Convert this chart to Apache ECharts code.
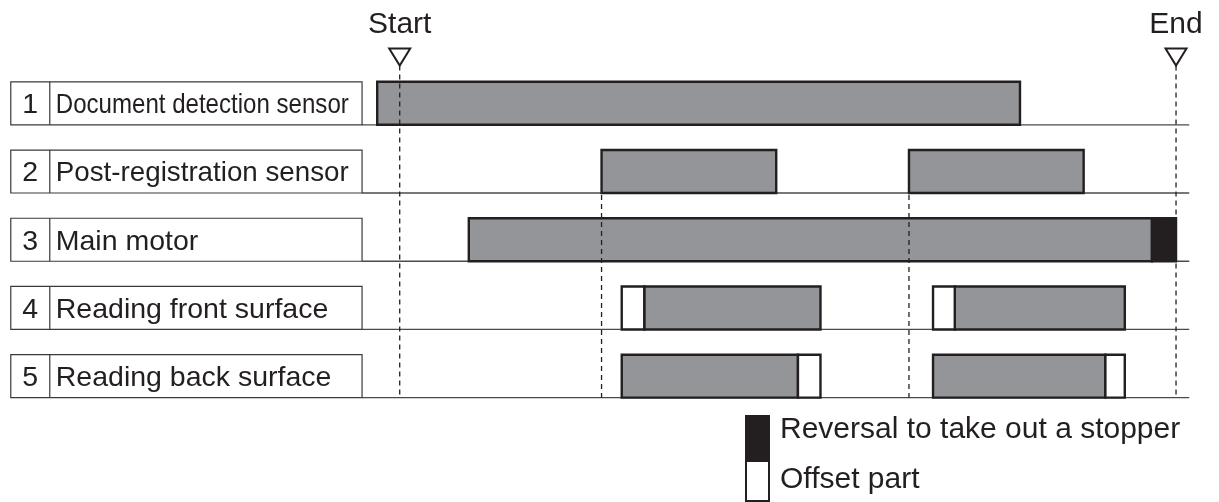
<!DOCTYPE html>
<html>
<head>
<meta charset="utf-8">
<script src="https://cdn.jsdelivr.net/npm/echarts@6/dist/echarts.min.js"></script>
<style>
html,body{margin:0;padding:0;background:#fff;}
#chart{width:1219px;height:502px;}
</style>
</head>
<body>
<div id="chart"></div>
<script>
// ---------- data (time units: Start = 0, End = 100) ----------
const rowNumbers = ['1', '2', '3', '4', '5'];
const rowNames = ['Document detection sensor', 'Post-registration sensor', 'Main motor', 'Reading front surface', 'Reading back surface'];
// [row, start, end]
const activeSpans = [
  [1, -2.9, 79.9],
  [2, 26.0, 48.5], [2, 65.6, 88.1],
  [3, 8.9, 96.9],
  [4, 31.5, 54.2], [4, 71.5, 93.4],
  [5, 28.6, 51.3], [5, 68.7, 90.9]
];
const reversalSpans = [[3, 96.9, 100]];
const offsetSpans = [[4, 28.6, 31.5], [4, 68.7, 71.5], [5, 51.3, 54.2], [5, 90.9, 93.4]];
const markerNames = ['Start', 'End'];
const markerTimes = [0, 100];
const syncTimes = [26.0, 65.6];
const legendNames = ['Reversal to take out a stopper', 'Offset part'];

// ---------- layout / style constants ----------
const INK = '#231f20';
const GRAY = '#939598';
const FONT = "'Liberation Sans', Arial, Helvetica, sans-serif";
const BAR_H = 0.63;            // bar height in row units
const BOX_LEFT = -50.1, BOX_RIGHT = -4.85;
const LINE_END = 101.7;
const LABEL_FS = 28.5;
const MAX_NAME_W = 293;

const measureCtx = document.createElement('canvas').getContext('2d');
function textWidth(t, fs) { measureCtx.font = fs + 'px ' + FONT; return measureCtx.measureText(t).width; }

const chart = echarts.init(document.getElementById('chart'), null, { renderer: 'canvas' });

function spanSeries(name, data, fill, z) {
  return {
    type: 'custom', name: name, z: z, silent: true,
    data: data,
    renderItem: function (params, api) {
      const row = api.value(0);
      const p0 = api.coord([api.value(1), row - BAR_H]);
      const p1 = api.coord([api.value(2), row]);
      return {
        type: 'rect',
        shape: { x: p0[0], y: p0[1], width: p1[0] - p0[0], height: p1[1] - p0[1] },
        style: { fill: fill, stroke: INK, lineWidth: 2.4 }
      };
    }
  };
}

const labelData = rowNames.map((n, i) => [i + 1, rowNumbers[i], n]);

const option = {
  animation: false,
  grid: { left: 10, right: 29, top: 2, bottom: 2 },
  xAxis: { type: 'value', min: -50.2, max: 101.8, show: false },
  yAxis: { type: 'value', min: -0.8, max: 6.5, inverse: true, show: false },
  series: [
    // label boxes
    {
      type: 'custom', name: 'labels', z: 2, silent: true,
      data: labelData,
      renderItem: function (params, api) {
        const row = api.value(0);
        const d = labelData[params.dataIndex];
        const tl = api.coord([BOX_LEFT, row - BAR_H]);
        const br = api.coord([BOX_RIGHT, row]);
        const midY = (tl[1] + br[1]) / 2 + 2;
        const divX = tl[0] + 39;
        const nameX = divX + 6;
        const nat = textWidth(d[2], LABEL_FS);
        const sx = Math.min(1, MAX_NAME_W / nat);
        return {
          type: 'group',
          children: [
            { type: 'rect', shape: { x: tl[0], y: tl[1], width: br[0] - tl[0], height: br[1] - tl[1] },
              style: { fill: '#fff', stroke: '#3a3a3a', lineWidth: 1.2 } },
            { type: 'line', shape: { x1: divX, y1: tl[1], x2: divX, y2: br[1] },
              style: { stroke: '#3a3a3a', lineWidth: 1.2 } },
            { type: 'text', x: tl[0] + 19.5, y: midY,
              style: { text: d[1], fill: INK, font: LABEL_FS + 'px ' + FONT, align: 'center', verticalAlign: 'middle' } },
            { type: 'text', x: nameX, y: midY, scaleX: sx,
              style: { text: d[2], fill: INK, font: LABEL_FS + 'px ' + FONT, align: 'left', verticalAlign: 'middle' } }
          ]
        };
      }
    },
    // baselines
    {
      type: 'custom', name: 'baselines', z: 1, silent: true,
      data: rowNames.map((n, i) => [i + 1]),
      renderItem: function (params, api) {
        const a = api.coord([BOX_RIGHT, api.value(0)]);
        const b = api.coord([LINE_END, api.value(0)]);
        return { type: 'line', shape: { x1: a[0], y1: a[1], x2: b[0], y2: b[1] },
          style: { stroke: '#4a4a4a', lineWidth: 1.3 } };
      }
    },
    spanSeries('active', activeSpans, GRAY, 3),
    spanSeries('reversal', reversalSpans, INK, 4),
    spanSeries('offset', offsetSpans, '#ffffff', 4),
    // sync dashed lines
    {
      type: 'custom', name: 'sync', z: 6, silent: true,
      data: syncTimes.map(t => [t]),
      renderItem: function (params, api) {
        const a = api.coord([api.value(0), 2]);
        const b = api.coord([api.value(0), 5]);
        return { type: 'line', shape: { x1: a[0], y1: a[1] + 2, x2: b[0], y2: b[1] },
          style: { stroke: INK, lineWidth: 1.3, lineDash: [5, 4] } };
      }
    },
    // Start / End markers
    {
      type: 'custom', name: 'markers', z: 6, silent: true,
      data: markerTimes.map((t, i) => [t, markerNames[i]]),
      renderItem: function (params, api) {
        const t = api.value(0);
        const c = api.coord([t, 0]);
        const lineEnd = api.coord([t, 5]);
        const txt = api.coord([t, -0.5]);
        return {
          type: 'group',
          children: [
            { type: 'line', shape: { x1: c[0], y1: c[1] + 9, x2: lineEnd[0], y2: lineEnd[1] },
              style: { stroke: INK, lineWidth: 1.3, lineDash: [5, 4] } },
            { type: 'polygon', shape: { points: [[c[0] - 10.5, c[1] - 8], [c[0] + 10.5, c[1] - 8], [c[0], c[1] + 9]] },
              style: { fill: '#fff', stroke: INK, lineWidth: 2 } },
            { type: 'text', x: c[0], y: txt[1] + 2,
              style: { text: markerNames[params.dataIndex], fill: INK, font: '30px ' + FONT, align: 'center', verticalAlign: 'middle' } }
          ]
        };
      }
    }
  ],
  graphic: [
    { type: 'rect', left: 745, top: 415, shape: { width: 23, height: 45 }, style: { fill: INK, stroke: INK, lineWidth: 2 } },
    { type: 'rect', left: 745, top: 460, shape: { width: 23, height: 40 }, style: { fill: '#fff', stroke: INK, lineWidth: 2 } },
    { type: 'text', x: 780, y: 430, style: { text: legendNames[0], fill: INK, font: '30px ' + FONT, textAlign: 'left', textVerticalAlign: 'middle' } },
    { type: 'text', x: 780, y: 480, style: { text: legendNames[1], fill: INK, font: '30px ' + FONT, textAlign: 'left', textVerticalAlign: 'middle' } }
  ]
};
chart.setOption(option);
</script>
</body>
</html>
